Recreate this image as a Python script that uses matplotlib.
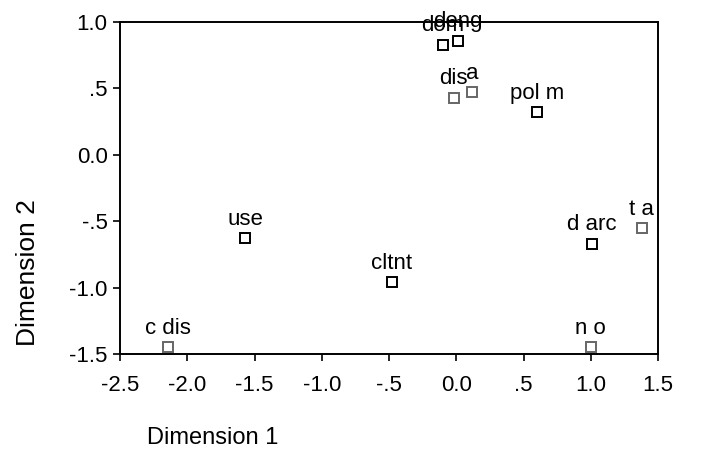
import matplotlib
matplotlib.use("Agg")
import matplotlib.pyplot as plt

plt.rcParams['font.family'] = ['Liberation Sans', 'DejaVu Sans']

names = ['c dis', 'use', 'cltnt', 'dom', 'deng', 'dis', 'a', 'pol m', 'd arc', 't a', 'n o']
dim1 = [-2.14, -1.57, -0.48, -0.10, 0.01, -0.02, 0.12, 0.60, 1.01, 1.38, 1.00]
dim2 = [-1.45, -0.63, -0.96, 0.83, 0.86, 0.43, 0.47, 0.32, -0.67, -0.55, -1.45]
faded = [True, False, False, False, False, True, True, False, False, True, True]

xticks = [-2.5, -2.0, -1.5, -1.0, -0.5, 0.0, 0.5, 1.0, 1.5]
xticklabels = ['-2.5', '-2.0', '-1.5', '-1.0', '-.5', '0.0', '.5', '1.0', '1.5']
yticks = [-1.5, -1.0, -0.5, 0.0, 0.5, 1.0]
yticklabels = ['-1.5', '-1.0', '-.5', '0.0', '.5', '1.0']

fig = plt.figure(figsize=(7.01, 4.70), dpi=100)
ax = fig.add_axes([0.1712, 0.2468, 0.7675, 0.7064])

for x, y, n, f in zip(dim1, dim2, names, faded):
    col = '#666666' if f else 'black'
    ax.plot(x, y, marker='s', ms=6.5, mfc='white', mec=col, mew=1.4, ls='none', clip_on=False)
    ax.annotate(n, (x, y), xytext=(0, 6), textcoords='offset points',
                ha='center', va='bottom', fontsize=16)

ax.set_xlim(-2.5, 1.5)
ax.set_ylim(-1.5, 1.0)
ax.set_xticks(xticks)
ax.set_xticklabels(xticklabels)
ax.set_yticks(yticks)
ax.set_yticklabels(yticklabels)
ax.tick_params(direction='out', length=5, width=1.2, labelsize=16)
ax.tick_params(axis='x', pad=10)
ax.tick_params(axis='y', pad=4)
for s in ax.spines.values():
    s.set_linewidth(1.4)

fig.text(0.040, 0.42, 'Dimension 2', rotation=90, ha='center', va='center', fontsize=19)
fig.text(0.209, 0.068, 'Dimension 1', ha='left', va='center', fontsize=17)

fig.savefig('out.png', dpi=100)
